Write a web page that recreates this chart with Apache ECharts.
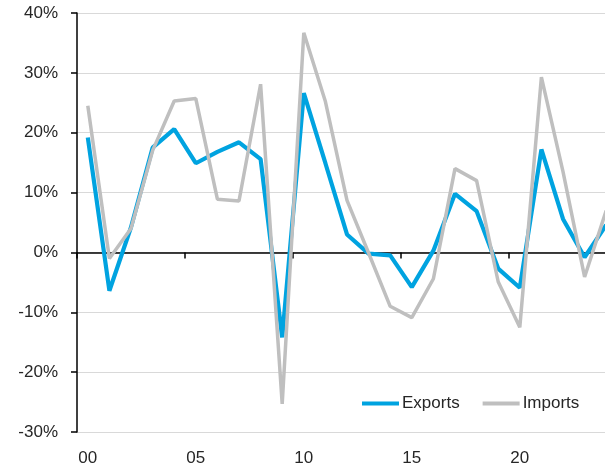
<!DOCTYPE html>
<html>
<head>
<meta charset="utf-8">
<script src="https://cdn.jsdelivr.net/npm/echarts@6/dist/echarts.min.js"></script>
<style>
html,body{margin:0;padding:0;background:#fff;}
#chart{width:605px;height:468px;}
</style>
</head>
<body>
<div id="chart"></div>
<script>
const years = ['00','01','02','03','04','05','06','07','08','09','10','11','12','13','14','15','16','17','18','19','20','21','22','23','24'];
const exportsData = [19.2,-6.4,4.2,17.5,20.6,14.9,16.8,18.4,15.6,-14.2,26.6,14.9,3.0,-0.2,-0.5,-5.8,0.3,9.8,6.9,-2.7,-5.9,17.2,5.6,-0.8,4.6];
const importsData = [24.5,-1.0,4.0,17.0,25.3,25.7,8.9,8.6,28.1,-25.3,36.7,25.2,8.7,-0.1,-9.0,-10.9,-4.4,14.0,12.0,-4.9,-12.5,29.3,13.5,-4.1,7.0];
const yTicks = {min:-30, max:40, interval:10};

const FONT = 'Liberation Sans, Arial, sans-serif';
const TXT = '#262626';
const chart = echarts.init(document.getElementById('chart'), null, {renderer:'canvas'});
chart.setOption({
  animation:false,
  backgroundColor:'#fff',
  grid:{left:77, top:13, bottom:36, right:-12, containLabel:false, outerBoundsMode:'none'},
  legend:{
    data:['Exports','Imports'],
    left:357, top:390,
    icon:'rect', itemWidth:37, itemHeight:4, itemGap:23,
    textStyle:{fontFamily:FONT, fontSize:17, color:TXT, padding:[0,0,0,-2]}
  },
  xAxis:[
    {type:'category', data:years, boundaryGap:true, position:'bottom',
     axisLine:{show:false, onZero:false}, axisTick:{show:false}, splitLine:{show:false},
     axisLabel:{interval:4, margin:18, fontFamily:FONT, fontSize:17, color:TXT}},
    {type:'category', data:years, boundaryGap:true, position:'bottom',
     axisLine:{show:true, onZero:true, lineStyle:{color:'#000', width:1.5}},
     axisTick:{show:true, interval:4, length:6, lineStyle:{color:'#000', width:1.5}},
     axisLabel:{show:false}, splitLine:{show:false}}
  ],
  yAxis:{
    type:'value', min:yTicks.min, max:yTicks.max, interval:yTicks.interval,
    axisLine:{show:true, onZero:false, lineStyle:{color:'#000', width:1.5}},
    axisTick:{show:true, length:6, lineStyle:{color:'#000', width:1.5}},
    splitLine:{show:true, lineStyle:{color:'#d9d9d9', width:1.2}},
    axisLabel:{formatter:'{value}%', margin:19, fontFamily:FONT, fontSize:17, color:TXT}
  },
  series:[
    {name:'Exports', type:'line', data:exportsData, xAxisIndex:0, showSymbol:false, symbol:'none',
     color:'#00A3E0', lineStyle:{color:'#00A3E0', width:4.2}, z:2},
    {name:'Imports', type:'line', data:importsData, xAxisIndex:0, showSymbol:false, symbol:'none',
     color:'#BFBFBF', lineStyle:{color:'#BFBFBF', width:3.5}, z:3}
  ]
});
</script>
</body>
</html>
